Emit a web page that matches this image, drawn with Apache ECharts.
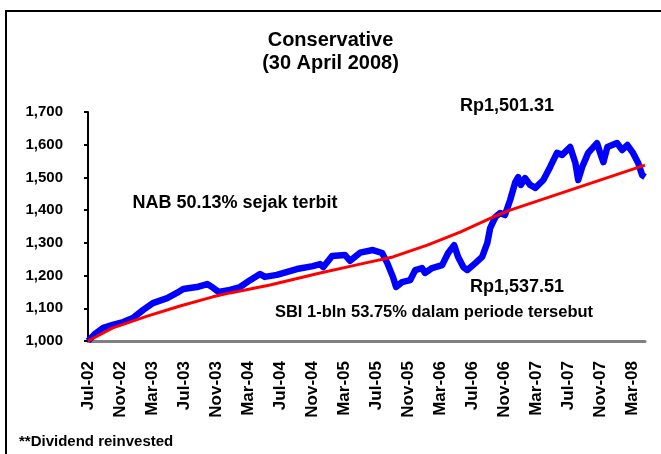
<!DOCTYPE html>
<html>
<head>
<meta charset="utf-8">
<script src="https://cdn.jsdelivr.net/npm/echarts@6/dist/echarts.min.js"></script>
<style>
  html, body { margin: 0; padding: 0; background: #fff; }
  #chart { width: 661px; height: 454px; }
</style>
</head>
<body>
<div id="chart"></div>
<script>
// months since Jul-02 and fund NAV (blue line)
var navMonths = [0, 0.8, 1.9, 3.1, 4.4, 5.6, 6.9, 8.1, 9.9, 11.1, 11.9, 13.6, 14.9, 15.5, 16.3, 17.75,
  19, 20.25, 21.5, 22.1, 23.6, 26.1, 28.1, 29, 29.4, 30.5, 32.1, 32.75, 34, 35.6, 36.75, 37.4, 38.1, 38.5,
  39.25, 40.25, 40.9, 41.75, 42.1, 43, 44.25, 45, 45.75, 46.25, 46.9, 47.4, 48.4, 49.25, 49.9, 50.25,
  50.9, 51.5, 52.1, 52.75, 53.4, 53.75, 54.1, 54.6, 55.25, 55.9, 56.9, 57.75, 58.6, 59.25, 60.25, 60.9,
  61.25, 61.75, 62.5, 63.6, 64, 64.4, 64.9, 66.1, 66.75, 67.4, 68.1, 68.75, 69.25, 69.6];
var navValues = [1000, 1020, 1040, 1049, 1058, 1070, 1095, 1116, 1131, 1147, 1159, 1165, 1174, 1165, 1150, 1156,
  1165, 1186, 1205, 1196, 1202, 1220, 1229, 1235, 1226, 1260, 1263, 1245, 1270, 1278, 1269, 1238, 1196, 1165,
  1180, 1186, 1217, 1223, 1208, 1223, 1232, 1269, 1293, 1257, 1226, 1217, 1238, 1257, 1300, 1345,
  1379, 1391, 1385, 1431, 1486, 1501, 1477, 1498, 1477, 1468, 1492, 1532, 1575, 1569, 1593, 1544,
  1492, 1532, 1575, 1605, 1575, 1547, 1593, 1605, 1584, 1599, 1575, 1544, 1507, 1501.31];

// SBI 1-month benchmark (red line)
var sbiMonths = [0, 3.1, 7.4, 11.5, 15.6, 17.75, 22.75, 29, 34, 38.1, 42.4, 46.5, 50.6, 52.75, 69.6];
var sbiValues = [1000, 1040, 1076, 1107, 1135, 1147, 1171, 1208, 1235, 1257, 1293, 1333, 1379, 1400, 1537.51];

var tickLabels = ['Jul-02', 'Nov-02', 'Mar-03', 'Jul-03', 'Nov-03', 'Mar-04', 'Jul-04', 'Nov-04', 'Mar-05',
  'Jul-05', 'Nov-05', 'Mar-06', 'Jul-06', 'Nov-06', 'Mar-07', 'Jul-07', 'Nov-07', 'Mar-08'];

function pairs(xs, ys) {
  var out = [];
  for (var i = 0; i < xs.length; i++) out.push([xs[i], ys[i]]);
  return out;
}

var FONT = 'Liberation Sans, Arial, sans-serif';
var myChart = echarts.init(document.getElementById('chart'));

var option = {
  animation: false,
  title: {
    text: 'Conservative\n(30 April 2008)',
    left: 'center',
    top: 24,
    textStyle: { fontFamily: FONT, fontSize: 20, fontWeight: 'bold', color: '#000', lineHeight: 23 }
  },
  grid: { left: 88, right: 16, top: 112, bottom: 113 },
  xAxis: {
    type: 'value',
    min: 0,
    max: 69.6,
    interval: 4,
    splitLine: { show: false },
    axisLine: { lineStyle: { color: '#808080', width: 3 } },
    axisTick: { show: false },
    axisLabel: {
      rotate: 90,
      margin: 20,
      fontFamily: FONT,
      fontSize: 17,
      fontWeight: 'bold',
      color: '#000',
      formatter: function (v) { return tickLabels[Math.round(v / 4)] || ''; }
    }
  },
  yAxis: {
    type: 'value',
    min: 1000,
    max: 1700,
    interval: 100,
    splitLine: { show: false },
    axisLine: { show: true, lineStyle: { color: '#000', width: 2 } },
    axisTick: { show: true, length: 4, lineStyle: { color: '#000', width: 2 } },
    axisLabel: {
      margin: 25,
      fontFamily: FONT,
      fontSize: 15,
      fontWeight: 'bold',
      color: '#000',
      formatter: function (v) { return v.toLocaleString('en-US'); }
    }
  },
  graphic: [
    { type: 'polyline', shape: { points: [[6, 454], [6, 11], [661, 11]] }, style: { stroke: '#000', lineWidth: 2, fill: null } },
    { type: 'text', x: 507, y: 106, style: { text: 'Rp1,501.31', font: 'bold 18px ' + FONT, fill: '#000', textAlign: 'center', textVerticalAlign: 'middle' } },
    { type: 'text', x: 235, y: 203, style: { text: 'NAB 50.13% sejak terbit', font: 'bold 18px ' + FONT, fill: '#000', textAlign: 'center', textVerticalAlign: 'middle' } },
    { type: 'text', x: 517, y: 287, style: { text: 'Rp1,537.51', font: 'bold 18px ' + FONT, fill: '#000', textAlign: 'center', textVerticalAlign: 'middle' } },
    { type: 'text', x: 434, y: 312, style: { text: 'SBI 1-bln 53.75% dalam periode tersebut', font: 'bold 16.5px ' + FONT, fill: '#000', textAlign: 'center', textVerticalAlign: 'middle' } },
    { type: 'text', x: 19, y: 442, style: { text: '**Dividend reinvested', font: 'bold 15px ' + FONT, fill: '#000', textAlign: 'left', textVerticalAlign: 'middle' } }
  ],
  series: [
    {
      name: 'NAB',
      type: 'line',
      showSymbol: false,
      data: pairs(navMonths, navValues),
      lineStyle: { color: '#0000FF', width: 6.5, join: 'round' },
      z: 2
    },
    {
      name: 'SBI 1-bln',
      type: 'line',
      showSymbol: false,
      data: pairs(sbiMonths, sbiValues),
      lineStyle: { color: '#FF0000', width: 3 },
      z: 3
    }
  ]
};

myChart.setOption(option);
</script>
</body>
</html>
